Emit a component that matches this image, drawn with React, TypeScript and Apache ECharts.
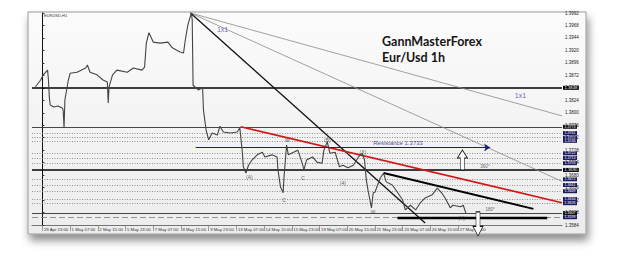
import { useEffect, useRef } from "react";
import * as echarts from "echarts";

// ---- data (x = hourly bar index, y = EUR/USD price) ----
const dateTicks = [0, 32, 64, 96, 128, 160, 192, 224, 256, 288, 320, 352, 384, 416, 448, 480];
const dateLabels = [
  "29 Apr 23:00", "1 May 07:00", "2 May 15:00", "5 May 23:00", "7 May 07:00", "8 May 15:00",
  "9 May 23:00", "13 May 07:00", "14 May 15:00", "15 May 23:00", "19 May 07:00", "20 May 15:00",
  "21 May 23:00", "23 May 07:00", "26 May 15:00", "27 May 23:00",
];
const priceMin = 1.3584;
const priceMax = 1.3992;
const priceStep = 0.0024;

const priceBars = [-8, -2, 1, 6, 7, 8, 9, 13, 18, 23, 24, 25, 26, 30, 32, 40, 50, 52, 55, 63, 70, 75, 76, 77, 81, 86, 98, 105, 115, 118, 120, 123, 128, 136, 145, 150, 159, 163, 165, 168, 172, 173, 174, 180, 185, 186, 189, 192, 196, 202, 205, 209, 217, 225, 228, 231, 232, 235, 238, 242, 248, 254, 257, 265, 271, 272, 275, 278, 279, 282, 284, 290, 295, 300, 302, 305, 312, 317, 323, 325, 329, 332, 338, 343, 347, 353, 359, 365, 369, 372, 374, 376, 380, 382, 384, 390, 394, 397, 404, 410, 416, 419, 425, 431, 436, 442, 450, 456, 461, 465, 471, 474, 483, 486, 489];
const priceValues = [1.3850, 1.3863, 1.3873, 1.3882, 1.3863, 1.3830, 1.3815, 1.3811, 1.3813, 1.3809, 1.3805, 1.3771, 1.3825, 1.3863, 1.3876, 1.3878, 1.3886, 1.3892, 1.3878, 1.3873, 1.3863, 1.3859, 1.3819, 1.3850, 1.3873, 1.3882, 1.3878, 1.3886, 1.3882, 1.3888, 1.3934, 1.3954, 1.3936, 1.3934, 1.3936, 1.3925, 1.3917, 1.3915, 1.3940, 1.3969, 1.3992, 1.3979, 1.3853, 1.3844, 1.3848, 1.3805, 1.3767, 1.3748, 1.3761, 1.3757, 1.3774, 1.3763, 1.3761, 1.3763, 1.3771, 1.3722, 1.3696, 1.3684, 1.3699, 1.3709, 1.3719, 1.3724, 1.3715, 1.3719, 1.3715, 1.3690, 1.3657, 1.3646, 1.3676, 1.3738, 1.3719, 1.3724, 1.3728, 1.3703, 1.3690, 1.3709, 1.3715, 1.3705, 1.3703, 1.3728, 1.3744, 1.3722, 1.3724, 1.3696, 1.3699, 1.3694, 1.3699, 1.3715, 1.3722, 1.3709, 1.3671, 1.3651, 1.3617, 1.3646, 1.3647, 1.3674, 1.3684, 1.3667, 1.3661, 1.3647, 1.3632, 1.3613, 1.3622, 1.3613, 1.3626, 1.3636, 1.3642, 1.3655, 1.3646, 1.3636, 1.3617, 1.3622, 1.3619, 1.3622, 1.3607];

const thickLevels = [1.3848, 1.3690];
const thinLevels = [1.3773, 1.3607];
const dottedLevels = [1.3761, 1.3752, 1.3746, 1.3722, 1.3713, 1.3703, 1.3672, 1.3661, 1.3649, 1.3634, 1.3626];
const dashedLevels = [1.3599];
const resistanceLine = [[177, 1.3733], [517, 1.3733]];
const supportSegment = [[410, 1.3597], [583, 1.3597]];
const gannDiagonal = [[171, 1.3992], [442, 1.3588]];
const gannFanA = [[171, 1.3992], [600, 1.3794]];
const gannFanB = [[171, 1.3992], [600, 1.3668]];
const redTrend = [[229, 1.3773], [600, 1.3627]];
const blackTrend = [[394, 1.3684], [567, 1.3615]];
const upArrowAt = [485, 1.3709];
const downArrowAt = [503, 1.3586];

const noteTexts = ["(A)", "W", "C", "C", "(B)", "(4)", "(X)", "W", "(Y)"];
const noteBars = [239, 283, 279, 301, 329, 347, 370, 382, 484];
const notePrices = [1.3676, 1.3748, 1.3632, 1.3674, 1.3748, 1.3665, 1.3724, 1.3609, 1.3597];

const gannLabels = ["1x1", "1x1"];
const gannLabelBars = [208, 552];
const gannLabelPrices = [1.3961, 1.3834];

const degreeLabels = ["360°", "180°"];
const degreeBars = [511, 517];
const degreePrices = [1.3696, 1.3613];

const resistanceText = "Resistance 1.3733";
const resistanceTextAt = [382, 1.3741];

const upArrowPath = "path://M5,0 L10,8 L7,8 L7,20 L3,20 L3,8 L0,8 Z";
const downArrowPath = "path://M3,0 L7,0 L7,12 L10,12 L5,20 L0,12 L3,12 Z";

export default function App() {
  const ref = useRef<HTMLDivElement>(null);
  useEffect(() => {
    if (!ref.current) return;
    const chart = echarts.init(ref.current, undefined, { renderer: "svg" });
    const fmt = (v: number) => v.toFixed(4);
    const lvl = (v: number, style: any, bg: string, size: number) => ({
      yAxis: v,
      lineStyle: style,
      label: {
        show: true, position: "end", distance: 1, formatter: fmt(v), fontSize: size,
        color: "#fff", backgroundColor: bg, padding: [0, 1.5, 0, 1.5], fontFamily: "Liberation Sans",
      },
    });
    const seg = (pts: number[][], style: any, endSymbol = "none") => [
      { coord: pts[0], symbol: "none" },
      { coord: pts[1], symbol: endSymbol, symbolSize: 6, lineStyle: style },
    ];
    const markData: any[] = [
      ...dottedLevels.map((v) => lvl(v, { color: "#7a7a7a", width: 0.8, type: [1, 1.5] }, "#1b1b5e", 3.6)),
      ...thinLevels.map((v) => lvl(v, { color: "#333", width: 0.9, type: "solid" }, "#111", 3.6)),
      ...dashedLevels.map((v) => lvl(v, { color: "#888", width: 0.9, type: [6, 3] }, "#1b1b5e", 3.6)),
      ...thickLevels.map((v) => lvl(v, { color: "#000", width: 1.6, type: "solid" }, "#000", 4.2)),
      seg(gannFanA, { color: "#8a8a8a", width: 0.8, type: "solid" }),
      seg(gannFanB, { color: "#8a8a8a", width: 0.8, type: "solid" }),
      seg(gannDiagonal, { color: "#111", width: 1.3, type: "solid" }),
      seg(redTrend, { color: "#d01818", width: 1.6, type: "solid" }),
      seg(blackTrend, { color: "#000", width: 2, type: "solid" }),
      seg(supportSegment, { color: "#000", width: 2.4, type: "solid" }),
      seg(resistanceLine, { color: "#1c1c7a", width: 1.1, type: "solid" }, "arrow"),
    ];
    const tinyLabel = (color: string, size: number, pos = "inside") => ({
      show: true, position: pos, distance: 0, formatter: "{b}", color, fontSize: size,
      fontFamily: "Liberation Sans",
    });
    const option: any = {
      animation: false,
      backgroundColor: "#ffffff",
      graphic: [
        {
          type: "rect", z: -10, silent: true,
          shape: { x: 28, y: 12, width: 558, height: 222 },
          style: {
            fill: new echarts.graphic.LinearGradient(0, 0, 0, 1, [
              { offset: 0, color: "#fbfbfb" }, { offset: 1, color: "#ececec" },
            ]),
            stroke: "#9a9a9a", lineWidth: 1,
            shadowBlur: 8, shadowOffsetY: 6, shadowOffsetX: 2, shadowColor: "rgba(0,0,0,0.45)",
          },
        },
        {
          type: "text", left: 382, top: 35, silent: true,
          style: { text: "GannMasterForex", fontSize: 12.5, fontWeight: "bold", fontFamily: "Lato", fill: "#151515" },
        },
        {
          type: "text", left: 382, top: 51, silent: true,
          style: { text: "Eur/Usd 1h", fontSize: 12.5, fontWeight: "bold", fontFamily: "Lato", fill: "#151515" },
        },
        {
          type: "text", left: 44, top: 13, silent: true,
          style: { text: "EURUSD,H1", fontSize: 4, fontFamily: "Liberation Sans", fill: "#333" },
        },
      ],
      grid: { left: 32, top: 13, width: 530, height: 212, containLabel: false },
      xAxis: {
        type: "value", min: -12, max: 600,
        axisLine: { show: true, lineStyle: { color: "#555", width: 0.8 } },
        axisTick: { show: true, customValues: dateTicks, length: 6, lineStyle: { color: "#777", width: 0.7 } },
        axisLabel: {
          show: true, customValues: dateTicks, fontSize: 4.3, color: "#333", align: "left", margin: 2,
          padding: [0, 0, 0, 1.5], fontFamily: "Liberation Sans",
          formatter: (v: number) => {
            const i = dateTicks.indexOf(Math.round(v));
            return i >= 0 ? dateLabels[i] : "";
          },
        },
        splitLine: { show: false },
      },
      yAxis: {
        type: "value", position: "right", min: priceMin, max: priceMax, interval: priceStep,
        axisLine: { show: true, lineStyle: { color: "#111", width: 1 } },
        axisTick: { show: true, length: 2, lineStyle: { color: "#333" } },
        axisLabel: { fontSize: 4.5, color: "#222", margin: 3, fontFamily: "Liberation Sans", formatter: (v: number) => v.toFixed(4) },
        splitLine: { show: false },
      },
      series: [
        {
          type: "line", name: "EURUSD",
          data: priceBars.map((b, i) => [b, priceValues[i]]),
          showSymbol: false, symbol: "none",
          lineStyle: { color: "#444", width: 1.1 },
          z: 5,
          markLine: {
            silent: true, symbol: ["none", "none"], animation: false, precision: 4,
            data: markData, label: { show: false },
          },
          markPoint: {
            silent: true, animation: false,
            label: { show: false },
            itemStyle: { color: "#ffffff", borderColor: "#111", borderWidth: 0.8 },
            data: [
              { coord: upArrowAt, symbol: upArrowPath, symbolSize: [10, 20] },
              { coord: downArrowAt, symbol: downArrowPath, symbolSize: [10, 24] },
            ],
          },
        },
        {
          type: "scatter", symbolSize: 0, z: 6, silent: true,
          data: noteTexts.map((t, i) => ({ name: t, value: [noteBars[i], notePrices[i]] })),
          label: tinyLabel("#333", 5),
        },
        {
          type: "scatter", symbolSize: 0, z: 6, silent: true,
          data: gannLabels.map((t, i) => ({ name: t, value: [gannLabelBars[i], gannLabelPrices[i]] })),
          label: tinyLabel("#3b3ba8", 7),
        },
        {
          type: "scatter", symbolSize: 0, z: 6, silent: true,
          data: degreeLabels.map((t, i) => ({ name: t, value: [degreeBars[i], degreePrices[i]] })),
          label: tinyLabel("#333", 4.5),
        },
        {
          type: "scatter", symbolSize: 0, z: 6, silent: true,
          data: [{ name: resistanceText, value: resistanceTextAt }],
          label: tinyLabel("#1a1a6a", 6, "right"),
        },
      ],
    };
    chart.setOption(option);
    return () => chart.dispose();
  }, []);
  return (
    <div style={{ position: "fixed", left: 0, top: 0, width: 625, height: 263, background: "#fff" }}>
      <div ref={ref} style={{ width: 625, height: 263 }} />
    </div>
  );
}
